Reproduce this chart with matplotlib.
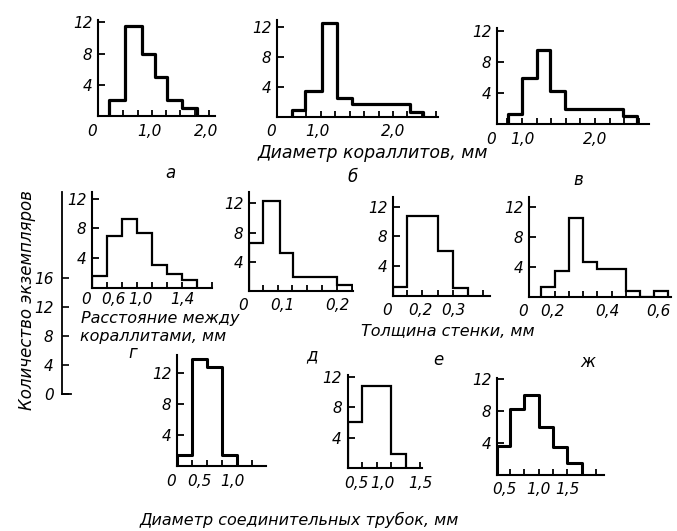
import numpy as np
import matplotlib
matplotlib.use('Agg')
import matplotlib.pyplot as plt
from matplotlib import transforms

# --- данные (количество экземпляров по классам) ---
# а, б, в - диаметр кораллитов, мм
a_edges = [0.3, 0.58, 0.88, 1.1, 1.32, 1.58, 1.84]
a_counts = [2, 11.5, 8, 5, 2, 1]
a_ticks = [0.3, 0.55, 0.8, 1.05, 1.3, 1.55, 1.8, 2.05]
a_label_pos = [1.0, 2.0]
a_labels = ['1,0', '2,0']

b_edges = [0.67, 0.84, 1.07, 1.26, 1.46, 2.22, 2.39]
b_counts = [1, 3.5, 12.5, 2.5, 1.8, 0.7]
b_ticks = [0.67, 0.86, 1.05, 1.24, 1.43, 1.62, 1.81, 2.0, 2.19, 2.38, 2.57]
b_label_pos = [1.0, 2.0]
b_labels = ['1,0', '2,0']

v_edges = [0.81, 1.0, 1.21, 1.38, 1.59, 2.38, 2.58]
v_counts = [1.3, 6, 9.5, 4.3, 2, 1]
v_ticks = [0.8, 1.0, 1.2, 1.4, 1.6, 1.8, 2.0, 2.2, 2.4, 2.6]
v_label_pos = [1.0, 2.0]
v_labels = ['1,0', '2,0']

# г - расстояние между кораллитами, мм
g_edges = [0.2, 0.4, 0.6, 0.8, 1.0, 1.2, 1.4, 1.6]
g_counts = [1.5, 7, 9.3, 7.3, 3, 1.8, 1]
g_ticks = [0.4, 0.6, 0.8, 1.0, 1.2, 1.4, 1.6, 1.8]
g_label_pos = [0.49, 0.84, 1.41]
g_labels = ['0,6', '1,0', '1,4']

# д
d_edges = [0.04, 0.065, 0.096, 0.12, 0.2, 0.229]
d_counts = [6.6, 12.3, 5.2, 1.9, 0.8]
d_ticks = [0.065, 0.092, 0.119, 0.146, 0.173, 0.2, 0.227]
d_label_pos = [0.1, 0.2]
d_labels = ['0,1', '0,2']

# е, ж - толщина стенки, мм
e_edges = [0.118, 0.161, 0.206, 0.255, 0.3, 0.345]
e_counts = [1.1, 10.7, 10.7, 6, 1]
e_ticks = [0.161, 0.206, 0.255, 0.3, 0.345, 0.39]
e_label_pos = [0.2, 0.3]
e_labels = ['0,2', '0,3']

zh_edges = [0.15, 0.2, 0.25, 0.3, 0.35, 0.4, 0.45, 0.5, 0.55, 0.6]
zh_counts = [1.4, 3.5, 10.5, 4.7, 3.7, 3.7, 0.8, 0, 0.8]
zh_ticks = [0.15, 0.2, 0.25, 0.3, 0.35, 0.4, 0.45, 0.5, 0.55, 0.6]
zh_label_pos = [0.19, 0.385, 0.565]
zh_labels = ['0,2', '0,4', '0,6']

# нижний ряд - диаметр соединительных трубок, мм
t1_edges = [0, 0.25, 0.5, 0.75, 1.0]
t1_counts = [1.4, 13.8, 12.8, 1.4]
t1_ticks = [0.25, 0.5, 0.75, 1.0, 1.25]
t1_label_pos = [0.38, 0.93]
t1_labels = ['0,5', '1,0']

t2_edges = [0.25, 0.5, 0.75, 1.0, 1.25]
t2_counts = [6, 10.8, 10.8, 1.9]
t2_ticks = [0.5, 0.75, 1.0, 1.25, 1.5]
t2_label_pos = [0.41, 0.86, 1.5]
t2_labels = ['0,5', '1,0', '1,5']

t3_edges = [0.27, 0.5, 0.75, 1.0, 1.25, 1.5, 1.75]
t3_counts = [3.6, 8.3, 10, 6, 3.5, 1.5]
t3_ticks = [0.5, 0.75, 1.0, 1.25, 1.5, 1.75, 2.0]
t3_label_pos = [0.41, 0.99, 1.51]
t3_labels = ['0,5', '1,0', '1,5']

y_ticks = [4, 8, 12]
shared_ticks = [0, 4, 8, 12, 16]

W, H = 677, 531
plt.rcParams['font.family'] = 'DejaVu Sans'
plt.rcParams['font.style'] = 'italic'

fig = plt.figure(figsize=(W / 100, H / 100), dpi=100)


def px_axes(x0, x1, ybase, ytop):
    return fig.add_axes([x0 / W, 1 - ybase / H, (x1 - x0) / W, (ybase - ytop) / H])


def draw_panel(x0, x1, ybase, ytop, px0, ppu, yscale, edges, counts, ticks,
               lab_pos, labels, zero=True, lw=1.6, rounded=False, lab_off=15):
    ax = px_axes(x0, x1, ybase, ytop)
    ax.set_xlim((x0 - px0) / ppu, (x1 - px0) / ppu)
    ax.set_ylim(0, (ybase - ytop) / yscale)
    ax.patch.set_alpha(0)
    for s in ['top', 'right']:
        ax.spines[s].set_visible(False)
    for s in ['left', 'bottom']:
        ax.spines[s].set_linewidth(1.5)
    st = ax.stairs(counts, edges, baseline=0, fill=False, color='black', lw=lw)
    if rounded:
        st.set_joinstyle('round')
        st.set_capstyle('round')
    ax.set_xticks([])
    ax.set_xticks(ticks, minor=True)
    ax.tick_params(axis='x', which='minor', direction='in', length=4, width=1.3)
    ax.set_yticks(y_ticks)
    ax.set_yticklabels([str(t) for t in y_ticks], fontsize=11)
    ax.tick_params(axis='y', direction='in', length=5, width=1.3, pad=4)
    ax.tick_params(axis='y', which='minor', left=False)
    off = transforms.ScaledTranslation(0, -lab_off / 100, fig.dpi_scale_trans)
    tr = transforms.blended_transform_factory(ax.transData, ax.transAxes) + off
    for p, l in zip(lab_pos, labels):
        ax.text(p, 0, l, transform=tr, ha='center', va='center', fontsize=11, clip_on=False)
    if zero:
        tr0 = ax.transAxes + transforms.ScaledTranslation(-6 / 100, -lab_off / 100, fig.dpi_scale_trans)
        ax.text(0, 0, '0', transform=tr0, ha='center', va='center', fontsize=11)
    return ax


# верхний ряд
draw_panel(98, 215, 116, 20, 92, 57, 7.8, a_edges, a_counts, a_ticks, a_label_pos, a_labels, lw=2.3, rounded=True)
draw_panel(277, 438, 117, 20, 241, 76, 7.5, b_edges, b_counts, b_ticks, b_label_pos, b_labels, lw=2.3, rounded=True)
draw_panel(497, 649, 124, 28, 449, 73, 7.75, v_edges, v_counts, v_ticks, v_label_pos, v_labels, lw=2.3, rounded=True)
# средний ряд
draw_panel(92, 212, 287.5, 192, 77, 75, 7.4, g_edges, g_counts, g_ticks, g_label_pos, g_labels, lab_off=12)
draw_panel(249, 353, 291, 192, 227, 550, 7.3, d_edges, d_counts, d_ticks, d_label_pos, d_labels)
draw_panel(393, 490, 295.5, 197, 354, 330, 7.4, e_edges, e_counts, e_ticks, e_label_pos, e_labels)
draw_panel(529, 671, 297, 197, 498, 284, 7.5, zh_edges, zh_counts, zh_ticks, zh_label_pos, zh_labels)
# нижний ряд
draw_panel(177, 266, 466, 355, 177, 60, 7.75, t1_edges, t1_counts, t1_ticks, t1_label_pos, t1_labels, lw=2.2, rounded=True)
draw_panel(347.5, 422, 468, 375, 333, 58, 7.6, t2_edges, t2_counts, t2_ticks, t2_label_pos, t2_labels, zero=False)
draw_panel(497, 604, 475, 378, 481.4, 57.2, 8.0, t3_edges, t3_counts, t3_ticks, t3_label_pos, t3_labels, zero=False, lw=2.2, rounded=True)

# общая ось "Количество экземпляров"
ax0 = px_axes(62, 71, 394, 192)
ax0.set_ylim(0, (394 - 192) / 7.25)
ax0.set_xlim(0, 1)
ax0.patch.set_alpha(0)
for s in ['top', 'right']:
    ax0.spines[s].set_visible(False)
ax0.spines['left'].set_linewidth(1.3)
ax0.spines['bottom'].set_linewidth(1.3)
ax0.set_xticks([])
ax0.set_yticks(shared_ticks)
ax0.set_yticklabels([str(t) for t in shared_ticks], fontsize=11)
ax0.tick_params(axis='y', direction='in', length=5, width=1.2, pad=6)

fig.text(27 / W, 1 - 300 / H, 'Количество экземпляров', rotation=90,
         ha='center', va='center', fontsize=12)

fs = 11.5
fig.text(373 / W, 1 - 153 / H, 'Диаметр кораллитов, мм', ha='center', va='center', fontsize=12.5)
fig.text(81 / W, 1 - 319 / H, 'Расстояние между', ha='left', va='center', fontsize=fs)
fig.text(80 / W, 1 - 336 / H, 'кораллитами, мм', ha='left', va='center', fontsize=fs)
fig.text(448 / W, 1 - 331 / H, 'Толщина стенки, мм', ha='center', va='center', fontsize=fs)
fig.text(299 / W, 1 - 520 / H, 'Диаметр соединительных трубок, мм', ha='center', va='center', fontsize=fs)

for letter, x, y in [('а', 170, 173), ('б', 353, 177), ('в', 578, 180),
                     ('г', 133, 353), ('д', 312, 355), ('е', 438, 360), ('ж', 588, 362)]:
    fig.text(x / W, 1 - y / H, letter, ha='center', va='center', fontsize=12)

fig.savefig('out.png', dpi=100)
